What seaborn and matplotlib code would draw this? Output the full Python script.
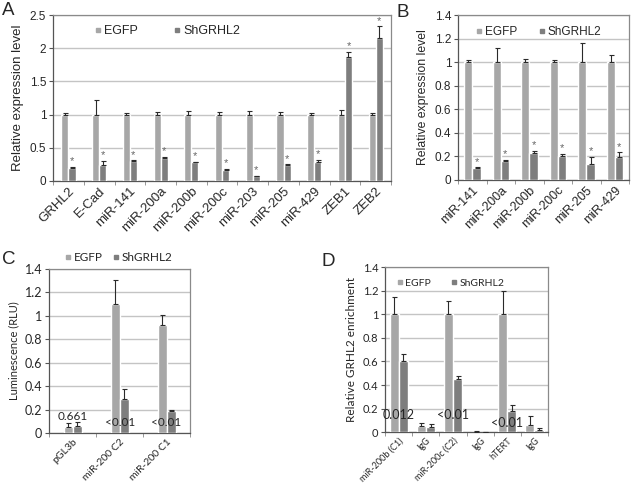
import pandas as pd
import matplotlib.pyplot as plt
from matplotlib.lines import Line2D
import seaborn as sns

sns.set_style("white")
plt.rcParams['font.family'] = ['Liberation Sans', 'DejaVu Sans']

EGFP_COL = '#a7a7a7'
SH_COL = '#7e7e7e'
GRID_COL = '#c4c4c4'
SERIES = ['EGFP', 'ShGRHL2']

# --- Panel A data ---
a_genes = ['GRHL2', 'E-Cad', 'miR-141', 'miR-200a', 'miR-200b', 'miR-200c',
           'miR-203', 'miR-205', 'miR-429', 'ZEB1', 'ZEB2']
a_egfp = [1, 1, 1, 1, 1, 1, 1, 1, 1, 1, 1]
a_egfp_err = [0.03, 0.22, 0.03, 0.04, 0.05, 0.04, 0.05, 0.04, 0.03, 0.07, 0.03]
a_sh = [0.19, 0.24, 0.30, 0.34, 0.28, 0.17, 0.07, 0.24, 0.29, 1.87, 2.16]
a_sh_err = [0.02, 0.06, 0.01, 0.02, 0.01, 0.01, 0.01, 0.01, 0.03, 0.08, 0.17]

# --- Panel B data ---
b_genes = ['miR-141', 'miR-200a', 'miR-200b', 'miR-200c', 'miR-205', 'miR-429']
b_egfp = [1, 1, 1, 1, 1, 1]
b_egfp_err = [0.02, 0.12, 0.03, 0.02, 0.16, 0.06]
b_sh = [0.10, 0.16, 0.23, 0.20, 0.135, 0.195]
b_sh_err = [0.005, 0.01, 0.015, 0.02, 0.06, 0.04]

# --- Panel C data ---
c_groups = ['pGL3b', 'miR-200 C2', 'miR-200 C1']
c_egfp = [0.05, 1.10, 0.92]
c_egfp_err = [0.035, 0.21, 0.09]
c_sh = [0.06, 0.29, 0.19]
c_sh_err = [0.035, 0.09, 0.01]
c_pvals = ['0.661', '<0.01', '<0.01']
c_pval_y = [0.145, 0.094, 0.094]

# --- Panel D data ---
d_groups = ['miR-200b (C1)', 'IgG', 'miR-200c (C2)', 'IgG ', 'hTERT', 'IgG  ']
d_egfp = [1.0, 0.05, 1.0, 0.005, 1.0, 0.06]
d_egfp_err = [0.15, 0.025, 0.11, 0.005, 0.20, 0.08]
d_sh = [0.60, 0.045, 0.45, 0.002, 0.18, 0.02]
d_sh_err = [0.06, 0.025, 0.025, 0.0, 0.05, 0.015]
d_pvals = ['0.012', '', '<0.01', '', '<0.01', '']
d_pval_y = [0.144, 0, 0.144, 0, 0.076, 0]


def make_df(groups, egfp, sh):
    return pd.DataFrame({
        'group': list(groups) * 2,
        'value': list(egfp) + list(sh),
        'series': ['EGFP'] * len(groups) + ['ShGRHL2'] * len(groups),
    })


def draw_panel(ax, groups, egfp, egfp_err, sh, sh_err, width, ymax, ystep,
               ylabel, tick_fs, xtick_fs, ylab_fs, font, stars=False):
    df = make_df(groups, egfp, sh)
    sns.barplot(data=df, x='group', y='value', hue='series', order=groups,
                hue_order=SERIES, palette=[EGFP_COL, SH_COL], width=width,
                errorbar=None, legend=False, saturation=1, ax=ax, zorder=3)
    for cont, errs in zip(ax.containers, [egfp_err, sh_err]):
        for bar, e in zip(cont, errs):
            x = bar.get_x() + bar.get_width() / 2
            h = bar.get_height()
            ax.errorbar(x, h, yerr=[[0], [e]], fmt='none', ecolor='#2a2a2a',
                        elinewidth=0.8, capsize=1.8, capthick=0.8, zorder=4)
    if stars:
        for bar, e in zip(ax.containers[1], sh_err):
            x = bar.get_x() + bar.get_width() / 2
            ax.text(x, bar.get_height() + e + ymax * 0.003, '*',
                    ha='center', va='bottom', fontsize=8, color='#666666')
    ax.set_ylim(0, ymax)
    ax.set_xlim(-0.5, len(groups) - 0.5)
    ticks = [round(i * ystep, 2) for i in range(int(round(ymax / ystep)) + 1)]
    ax.set_yticks(ticks)
    ax.set_yticklabels([f'{t:g}' for t in ticks], fontsize=tick_fs,
                       family=font)
    ax.yaxis.grid(True, color=GRID_COL, linewidth=1.0, zorder=0)
    ax.xaxis.grid(False)
    ax.set_axisbelow(True)
    ax.set_xticks(range(len(groups)))
    ax.set_xticklabels([g.strip() for g in groups], rotation=45, ha='right',
                       rotation_mode='anchor', fontsize=xtick_fs, family=font)
    ax.tick_params(axis='x', length=0, pad=3)
    ax.set_xticks([i - 0.5 for i in range(len(groups) + 1)], minor=True)
    ax.tick_params(axis='x', which='minor', length=3, color='#888888',
                   direction='out', bottom=True)
    ax.tick_params(axis='y', length=3, color='#555555', direction='out',
                   left=True, pad=2)
    ax.set_xlabel('')
    ax.set_ylabel(ylabel, fontsize=ylab_fs, family=font, labelpad=4)
    for side in ['top', 'right']:
        ax.spines[side].set_color('#8a8a8a')
        ax.spines[side].set_linewidth(0.9)
    for side in ['left', 'bottom']:
        ax.spines[side].set_color('#555555')
        ax.spines[side].set_linewidth(0.9)


def add_legend(ax, loc, anchor, fs, font, spacing):
    handles = [Line2D([], [], marker='s', linestyle='', color=c, markersize=3.5)
               for c in [EGFP_COL, SH_COL]]
    ax.legend(handles, SERIES, loc=loc, bbox_to_anchor=anchor, ncol=2,
              frameon=False, handletextpad=0.0, columnspacing=spacing,
              handlelength=1.0, prop={'family': font, 'size': fs},
              borderaxespad=0)


fig = plt.figure(figsize=(6.4, 4.9), dpi=100)

# Panel A
axA = fig.add_axes([0.083, 0.631, 0.528, 0.338])
draw_panel(axA, a_genes, a_egfp, a_egfp_err, a_sh, a_sh_err, 0.46, 2.5, 0.5,
           'Relative expression level', 8.5, 9.5, 9.5, 'Liberation Sans',
           stars=True)
add_legend(axA, 'upper left', (0.10, 0.97), 9, 'Liberation Sans', 2.6)

# Panel B
axB = fig.add_axes([0.716, 0.633, 0.267, 0.336])
draw_panel(axB, b_genes, b_egfp, b_egfp_err, b_sh, b_sh_err, 0.58, 1.4, 0.2,
           'Relative expression level', 8.5, 9, 8.8, 'Liberation Sans',
           stars=True)
add_legend(axB, 'upper left', (0.06, 0.96), 8.5, 'Liberation Sans', 1.6)

# Panel C
axC = fig.add_axes([0.077, 0.116, 0.220, 0.335])
draw_panel(axC, c_groups, c_egfp, c_egfp_err, c_sh, c_sh_err, 0.38, 1.4, 0.2,
           'Luminescence (RLU)', 9, 7.5, 8, 'Lato')
add_legend(axC, 'lower left', (0.06, 1.005), 8.5, 'Lato', 0.6)
for i, (p, y) in enumerate(zip(c_pvals, c_pval_y)):
    axC.text(i, y, p, ha='center', va='center', fontsize=8.5, family='Lato',
             zorder=5)

# Panel D
axD = fig.add_axes([0.602, 0.118, 0.254, 0.337])
draw_panel(axD, d_groups, d_egfp, d_egfp_err, d_sh, d_sh_err, 0.68, 1.4, 0.2,
           'Relative GRHL2 enrichment', 8, 6.5, 8.5, 'Lato')
add_legend(axD, 'upper left', (0.03, 0.955), 7.5, 'Lato', 1.8)
for i, (p, y) in enumerate(zip(d_pvals, d_pval_y)):
    if p:
        axD.text(i, y, p, ha='center', va='center', fontsize=9,
                 family='Lato', zorder=5)

# panel letters
for lbl, x, y in [('A', 0.003, 0.995), ('B', 0.620, 0.992),
                  ('C', 0.003, 0.488), ('D', 0.502, 0.484)]:
    fig.text(x, y, lbl, fontsize=13.5, va='top', ha='left',
             family='Liberation Sans')

fig.savefig('out.png', dpi=100)
